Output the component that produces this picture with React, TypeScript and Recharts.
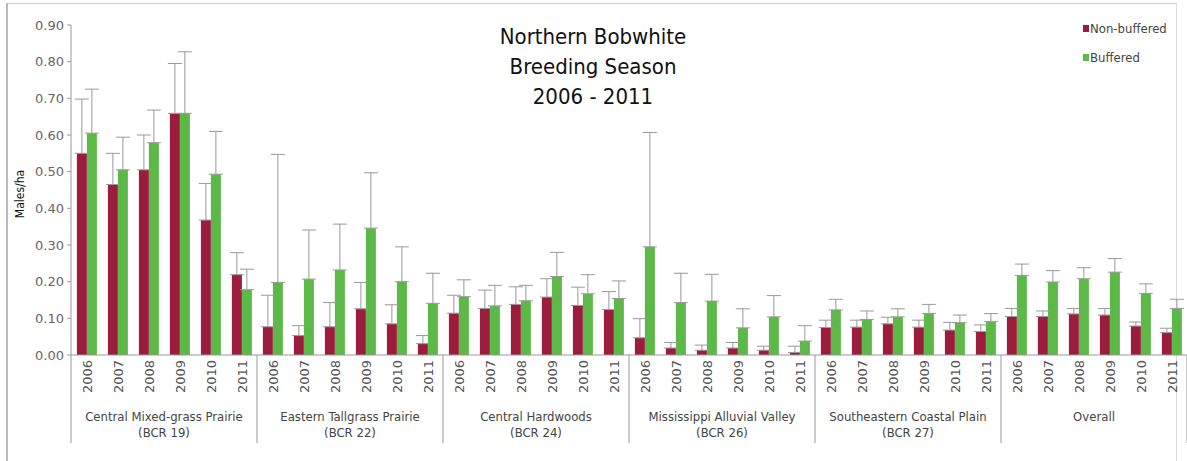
import { BarChart, Bar, ErrorBar, XAxis, YAxis, Legend } from 'recharts'

const groups = [
  ['Central Mixed-grass Prairie', '(BCR 19)'],
  ['Eastern Tallgrass Prairie', '(BCR 22)'],
  ['Central Hardwoods', '(BCR 24)'],
  ['Mississippi Alluvial Valley', '(BCR 26)'],
  ['Southeastern Coastal Plain', '(BCR 27)'],
  ['Overall', ''],
]
const years = ['2006', '2007', '2008', '2009', '2010', '2011']
const seriesNames = ['Non-buffered', 'Buffered']

// males/ha, one value per group-year (group order as above)
const nonBuffered = [
  0.55, 0.465, 0.505, 0.659, 0.368, 0.219,
  0.077, 0.053, 0.077, 0.126, 0.085, 0.031,
  0.114, 0.127, 0.138, 0.158, 0.135, 0.124,
  0.047, 0.019, 0.013, 0.019, 0.013, 0.007,
  0.075, 0.076, 0.085, 0.076, 0.068, 0.064,
  0.105, 0.105, 0.112, 0.109, 0.079, 0.061,
]
const nonBufferedErr = [
  0.148, 0.085, 0.095, 0.136, 0.1, 0.06,
  0.086, 0.027, 0.066, 0.072, 0.052, 0.022,
  0.049, 0.05, 0.048, 0.05, 0.05, 0.049,
  0.052, 0.015, 0.014, 0.015, 0.011, 0.017,
  0.02, 0.019, 0.018, 0.019, 0.021, 0.018,
  0.022, 0.015, 0.015, 0.018, 0.011, 0.012,
]
const buffered = [
  0.605, 0.505, 0.579, 0.659, 0.493, 0.178,
  0.198, 0.207, 0.232, 0.346, 0.2, 0.141,
  0.159, 0.134, 0.148, 0.214, 0.167, 0.154,
  0.295, 0.143, 0.147, 0.074, 0.104, 0.038,
  0.123, 0.097, 0.104, 0.113, 0.088, 0.091,
  0.217, 0.199, 0.208, 0.226, 0.168, 0.127,
]
const bufferedErr = [
  0.12, 0.089, 0.089, 0.168, 0.117, 0.056,
  0.349, 0.134, 0.125, 0.151, 0.095, 0.082,
  0.046, 0.056, 0.042, 0.066, 0.052, 0.048,
  0.312, 0.08, 0.073, 0.052, 0.058, 0.042,
  0.029, 0.023, 0.022, 0.025, 0.021, 0.022,
  0.031, 0.031, 0.03, 0.037, 0.026, 0.025,
]
const yTicks = [0, 0.1, 0.2, 0.3, 0.4, 0.5, 0.6, 0.7, 0.8, 0.9]

const RED = '#9c1c3e'
const GREEN = '#5cb947'
const FONT = "'DejaVu Sans', sans-serif"
const NARROW = "'DejaVu Sans Condensed', 'DejaVu Sans', sans-serif"

const rows = groups.flatMap((g, gi) =>
  years.map((yr, yi) => {
    const i = gi * years.length + yi
    return {
      key: `${gi}-${yr}`,
      year: yr,
      nb: nonBuffered[i],
      nbErr: [0, nonBufferedErr[i]],
      b: buffered[i],
      bErr: [0, bufferedErr[i]],
    }
  })
)

function CategoryTick(props: any) {
  const { x, y, payload } = props
  const i = payload.index
  const half = payload.offset || 15.5
  const n = years.length
  const g = groups[Math.floor(i / n)]
  return (
    <g>
      <text
        transform={`translate(${x + 5},${y + 5}) rotate(-90)`}
        textAnchor="end"
        fontSize={13}
        fontFamily={FONT}
        fill="#555"
      >
        {rows[i].year}
      </text>
      {i % n === 0 && (
        <line x1={x - half} x2={x - half} y1={y} y2={y + 88} stroke="#999" />
      )}
      {i === rows.length - 1 && (
        <line x1={x + half} x2={x + half} y1={y} y2={y + 88} stroke="#999" />
      )}
      {i % n === 2 && (
        <text textAnchor="middle" fontSize={13} fontFamily={NARROW} fill="#444">
          <tspan x={x + half} y={y + 66}>{g[0]}</tspan>
          <tspan x={x + half} y={y + 82}>{g[1]}</tspan>
        </text>
      )}
    </g>
  )
}

function LegendBox(props: any) {
  const items = [...(props.payload || [])].sort(
    (a: any, b: any) => seriesNames.indexOf(a.value) - seriesNames.indexOf(b.value)
  )
  return (
    <div style={{ fontFamily: NARROW, fontSize: 13, color: '#444' }}>
      {items.map((p: any) => (
        <div key={p.value} style={{ display: 'flex', alignItems: 'center', height: 29 }}>
          <span style={{ width: 6, height: 7, background: p.color, marginRight: 1 }} />
          {p.value}
        </div>
      ))}
    </div>
  )
}

export default function App() {
  return (
    <div style={{ position: 'absolute', left: 0, top: 0, width: 1187, height: 461, background: '#fff' }}>
      <div
        style={{
          position: 'absolute', left: 6, top: 3, width: 1168, height: 470,
          borderTop: '1px solid #ccc', borderLeft: '2px solid #bbb', borderRight: '1px solid #ddd',
        }}
      />
      <div
        style={{
          position: 'absolute', left: 480, top: 22, width: 226, textAlign: 'center',
          fontFamily: NARROW, fontSize: 22, lineHeight: '30px', color: '#111',
        }}
      >
        Northern Bobwhite<br />Breeding Season<br />2006 - 2011
      </div>
      <BarChart
        width={1187}
        height={461}
        data={rows}
        margin={{ top: 25, right: 0, left: 0, bottom: 6 }}
        barCategoryGap="19%"
        barGap={0}
      >
        <XAxis
          dataKey="key"
          interval={0}
          height={100}
          tickSize={0}
          tickMargin={0}
          tick={<CategoryTick />}
          stroke="#999"
        />
        <YAxis
          width={71}
          domain={[0, 0.9]}
          ticks={yTicks}
          tickFormatter={(v: number) => v.toFixed(2)}
          tick={{ fontSize: 13, fontFamily: FONT, fill: '#666' }}
          tickSize={4}
          tickMargin={3}
          stroke="#999"
          label={{
            content: (p: any) => {
              const vb = p.viewBox
              return (
                <text
                  transform={`translate(24,${vb.y + vb.height / 2 + 4}) rotate(-90)`}
                  textAnchor="middle"
                  fontSize={12}
                  fontFamily={NARROW}
                  fill="#111"
                >
                  Males/ha
                </text>
              )
            },
          }}
        />
        <Legend
          layout="vertical"
          verticalAlign="middle"
          align="center"
          content={<LegendBox />}
          wrapperStyle={{ position: 'absolute', top: 14, left: 1083, width: 110 }}
        />
        <Bar dataKey="nb" name={seriesNames[0]} fill={RED} isAnimationActive={false}>
          <ErrorBar dataKey="nbErr" width={7} stroke="#999" strokeWidth={1} />
        </Bar>
        <Bar dataKey="b" name={seriesNames[1]} fill={GREEN} isAnimationActive={false}>
          <ErrorBar dataKey="bErr" width={7} stroke="#999" strokeWidth={1} />
        </Bar>
      </BarChart>
    </div>
  )
}
